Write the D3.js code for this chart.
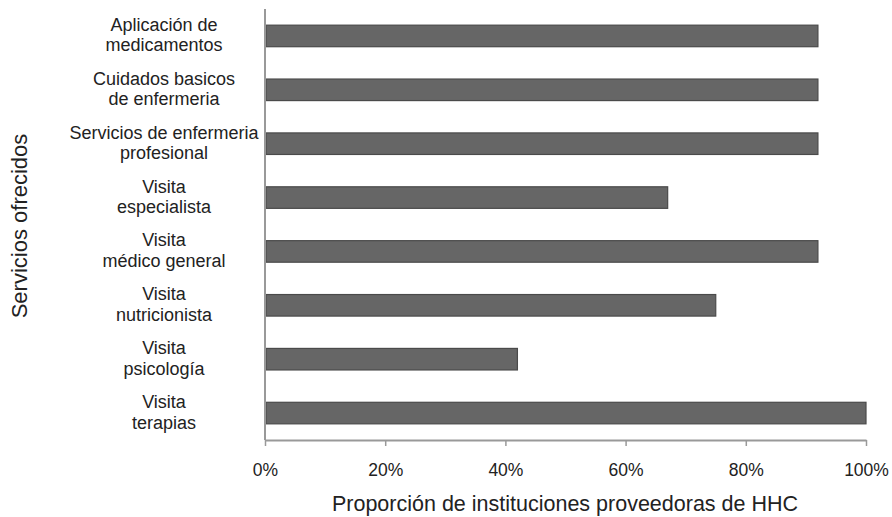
<!DOCTYPE html>
<html><head><meta charset="utf-8">
<script src="https://cdn.jsdelivr.net/npm/d3@7"></script>
<style>body{margin:0;background:#fff}svg{display:block;font-family:"Liberation Sans",Arial,sans-serif}</style>
</head><body><svg id="c" width="892" height="517"></svg>
<script>
const categories = [
  ["Aplicación de","medicamentos"],
  ["Cuidados basicos","de enfermeria"],
  ["Servicios de enfermeria","profesional"],
  ["Visita","especialista"],
  ["Visita","médico general"],
  ["Visita","nutricionista"],
  ["Visita","psicología"],
  ["Visita","terapias"]
];
const values = [92, 92, 92, 67, 92, 75, 42, 100];
const tickValues = [0, 20, 40, 60, 80, 100];
const xTitle = "Proporción de instituciones proveedoras de HHC";
const yTitle = "Servicios ofrecidos";

const svg = d3.select("#c");
const mLeft = 265, mRight = 866, mTop = 9, mBottom = 440;
const x = d3.scaleLinear().domain([0,100]).range([mLeft,mRight]);
const y = d3.scaleBand().domain(d3.range(categories.length)).range([mTop,mBottom]).paddingInner(0.6).paddingOuter(0.3);

svg.selectAll("rect.bar").data(values).join("rect")
  .attr("class","bar")
  .attr("x", x(0)+1)
  .attr("y", (d,i)=>y(i))
  .attr("width", d=>x(d)-x(0)-1)
  .attr("height", y.bandwidth())
  .attr("fill","#666666")
  .attr("stroke","#4a4a4a")
  .attr("stroke-width",1.2);

const axisColor = "#999";
svg.append("line").attr("x1",mLeft).attr("x2",mLeft).attr("y1",mTop).attr("y2",mBottom)
  .attr("stroke",axisColor).attr("stroke-width",2);
const xa = svg.append("g").attr("transform",`translate(0,${mBottom})`)
  .call(d3.axisBottom(x).tickValues(tickValues).tickSize(6).tickSizeOuter(0).tickFormat(d=>d+"%"));
xa.select(".domain").attr("stroke",axisColor).attr("stroke-width",2);
xa.selectAll(".tick line").attr("stroke",axisColor).attr("stroke-width",1.5);
xa.selectAll(".tick text").attr("fill","#222").attr("font-size",17.5).attr("dy",0).attr("y",36)
  .attr("font-family","Liberation Sans, Arial, sans-serif");

const lab = svg.append("g");
categories.forEach((lines,i)=>{
  const cy = y(i)+y.bandwidth()/2;
  const t = lab.append("text").attr("x",164).attr("y",cy-5)
    .attr("text-anchor","middle").attr("font-size",18).attr("fill","#222");
  lines.forEach((l,j)=>t.append("tspan").attr("x",164).attr("dy", j===0?0:20.5).text(l));
});

svg.append("text").attr("x",565).attr("y",511).attr("text-anchor","middle")
  .attr("font-size",21.5).attr("fill","#222").text(xTitle);
svg.append("text").attr("transform","translate(27,226) rotate(-90)").attr("text-anchor","middle")
  .attr("font-size",22).attr("fill","#222").text(yTitle);
</script></body></html>
